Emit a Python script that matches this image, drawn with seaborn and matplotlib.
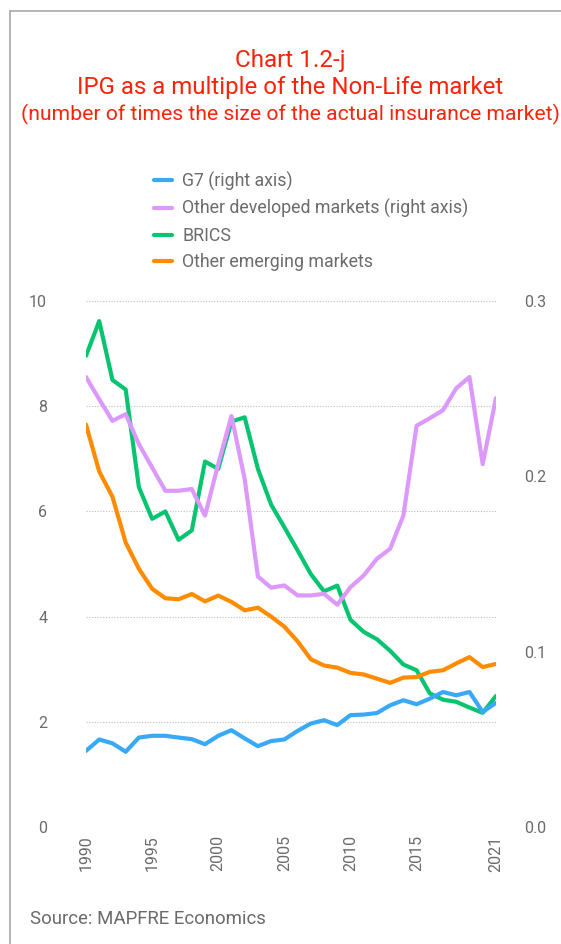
import numpy as np
import pandas as pd
import matplotlib.pyplot as plt
import seaborn as sns
from matplotlib.lines import Line2D

# Data
years = list(range(1990, 2022))

# right axis
g7 = [0.0434, 0.0499, 0.0477, 0.0429, 0.0510, 0.0520, 0.0520, 0.0510, 0.0501, 0.0472,
      0.0520, 0.0552, 0.0505, 0.0461, 0.0490, 0.0499, 0.0548, 0.0590, 0.0609, 0.0581,
      0.0638, 0.0641, 0.0650, 0.0694, 0.0723, 0.0700, 0.0732, 0.0770, 0.0751, 0.0770,
      0.0656, 0.0708]
other_developed = [0.2567, 0.2440, 0.2317, 0.2355, 0.2184, 0.2051, 0.1918, 0.1918, 0.1928, 0.1776,
                   0.2070, 0.2345, 0.1985, 0.1429, 0.1365, 0.1378, 0.1321, 0.1321, 0.1330, 0.1268,
                   0.1368, 0.1435, 0.1530, 0.1587, 0.1776, 0.2289, 0.2332, 0.2378, 0.2503, 0.2567,
                   0.2070, 0.2446]

# left axis
brics = [8.96, 9.62, 8.50, 8.32, 6.46, 5.86, 6.00, 5.46, 5.64, 6.95,
         6.81, 7.71, 7.79, 6.81, 6.13, 5.70, 5.26, 4.81, 4.48, 4.59,
         3.94, 3.71, 3.57, 3.35, 3.09, 2.98, 2.54, 2.42, 2.38, 2.27,
         2.17, 2.49]
other_emerging = [7.65, 6.76, 6.28, 5.41, 4.91, 4.53, 4.35, 4.33, 4.43, 4.29,
                  4.40, 4.28, 4.12, 4.17, 4.00, 3.81, 3.53, 3.19, 3.07, 3.03,
                  2.93, 2.90, 2.82, 2.74, 2.84, 2.85, 2.95, 2.98, 3.11, 3.23,
                  3.04, 3.10]

labels = ['G7 (right axis)', 'Other developed markets (right axis)',
          'BRICS', 'Other emerging markets']
colors = ['#38A9F7', '#DD98FB', '#08C470', '#FF8C00']
xticks = [1990, 1995, 2000, 2005, 2010, 2015, 2021]

sns.set_style('white')
plt.rcParams['font.family'] = ['Roboto', 'DejaVu Sans']
grey = '#6b6b6b'

fig = plt.figure(figsize=(5.61, 9.44), dpi=100)
ax = fig.add_axes([0.1533, 0.124, 0.7307, 0.557])
ax2 = ax.twinx()

lw = 3.0
sns.lineplot(x=years, y=brics, ax=ax, color=colors[2], linewidth=lw)
sns.lineplot(x=years, y=other_emerging, ax=ax, color=colors[3], linewidth=lw)
sns.lineplot(x=years, y=g7, ax=ax2, color=colors[0], linewidth=lw)
sns.lineplot(x=years, y=other_developed, ax=ax2, color=colors[1], linewidth=lw)

ax.set_xlim(1990, 2021)
ax.set_ylim(0, 10)
ax2.set_ylim(0, 0.3)
ax.set_yticks([0, 2, 4, 6, 8, 10])
ax2.set_yticks([0.0, 0.1, 0.2, 0.3])
ax2.set_yticklabels(['0.0', '0.1', '0.2', '0.3'])
ax.set_xticks(xticks)
ax.set_xticklabels([str(y) for y in xticks], rotation=90)

for a in (ax, ax2):
    for s in a.spines.values():
        s.set_visible(False)
    a.set_xlabel('')
    a.set_ylabel('')
ax2.patch.set_visible(False)

ax.tick_params(axis='y', length=0, pad=28, labelsize=11.5, labelcolor=grey)
ax2.tick_params(axis='y', length=0, pad=20, labelsize=11.5, labelcolor=grey)
ax.tick_params(axis='x', length=0, pad=6, labelsize=11.5, labelcolor=grey)

ax.grid(axis='y', color='#bdbdbd', linestyle=(0, (1, 1.5)), linewidth=0.8)
ax.grid(axis='x', visible=False)
ax.set_axisbelow(True)

# legend
handles = [Line2D([0], [0], color=c, linewidth=3) for c in colors]
fig.legend(handles, labels, loc='upper left', bbox_to_anchor=(0.2616, 0.826),
           frameon=False, fontsize=12.8, labelcolor=grey, handlelength=1.0,
           handletextpad=0.6, labelspacing=0.48, borderaxespad=0)

# titles
red = '#F8240A'
cx = 0.517
fig.text(cx, 0.9354, 'Chart 1.2-j', ha='center', va='center', color=red, fontsize=17.5)
fig.text(cx, 0.9078, 'IPG as a multiple of the Non-Life market', ha='center', va='center',
         color=red, fontsize=17.3)
fig.text(cx, 0.8792, '(number of times the size of the actual insurance market)',
         ha='center', va='center', color=red, fontsize=15.2)

fig.text(0.053, 0.027, 'Source: MAPFRE Economics', ha='left', va='center', color=grey, fontsize=13.4)

# partial frame
fig.add_artist(Line2D([0.0178, 0.0178], [0.0, 0.988], color='#a8a8a8', linewidth=1.2))
fig.add_artist(Line2D([0.0178, 1.0], [0.988, 0.988], color='#a8a8a8', linewidth=1.2))

fig.savefig('out.png', dpi=100)
